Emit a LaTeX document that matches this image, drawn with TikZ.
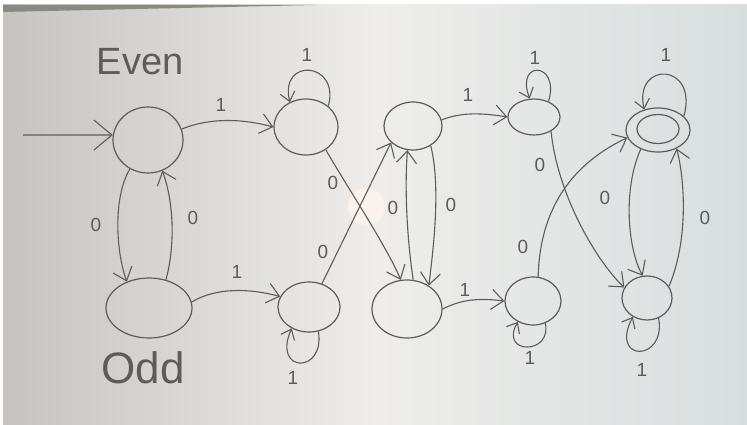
\documentclass[tikz,border=0pt]{standalone}
\usepackage{fontspec}
\setmainfont{Liberation Sans}
\usetikzlibrary{shapes.geometric,arrows.meta,fadings}
\definecolor{pen}{RGB}{92,92,92}
\definecolor{boardL}{RGB}{198,196,192}
\definecolor{boardM}{RGB}{238,237,235}
\definecolor{boardR}{RGB}{216,222,222}
\definecolor{glare}{RGB}{255,244,236}
\definecolor{frame}{RGB}{140,137,130}
\begin{document}
\begin{tikzpicture}[x=1pt,y=-1pt,
  state/.style={ellipse,draw=pen,line width=1.2pt,inner sep=0pt},
  edge/.style={draw=pen,line width=1.1pt,-{Straight Barb[length=12pt,width=20pt,line width=1.1pt]}},
  loopedge/.style={draw=pen,line width=1.1pt,-{Straight Barb[length=9pt,width=15pt,line width=1.1pt]}},
  startedge/.style={draw=pen,line width=1.1pt,-{Straight Barb[length=18pt,width=30pt,line width=1.1pt]}},
  lbl/.style={text=pen,font=\fontsize{19}{19}\selectfont,inner sep=0pt},
  big/.style={text=pen,inner sep=0pt}]
\useasboundingbox (0,0) rectangle (747,425);
\fill[white] (0,0) rectangle (747,425);
\shade[left color=boardL,right color=boardR,middle color=boardM] (3,5) rectangle (747,425);
\fill[frame] (3,5) -- (315,5) -- (3,12) -- cycle;
\fill[glare,opacity=0.8,path fading=circle with fuzzy edge 15 percent] (366,206) circle (20);

% states
\node[state,minimum width=70pt,minimum height=66pt] (A) at (148,140) {};
\node[state,minimum width=86pt,minimum height=60pt] (B) at (149,308) {};
\node[state,minimum width=64pt,minimum height=56pt] (C) at (306,127) {};
\node[state,minimum width=62pt,minimum height=50pt] (D) at (309,307) {};
\node[state,minimum width=58pt,minimum height=48pt] (E) at (413,126) {};
\node[state,minimum width=70pt,minimum height=58pt] (F) at (407,309) {};
\node[state,minimum width=52pt,minimum height=36pt] (G) at (534,117) {};
\node[state,minimum width=56pt,minimum height=48pt] (H) at (533,301) {};
\node[state,minimum width=64pt,minimum height=44pt] (I) at (658,130) {};
\node[state,minimum width=42pt,minimum height=29pt] (Iin) at (658,129) {};
\node[state,minimum width=50pt,minimum height=44pt] (J) at (647,298) {};

% titles
\node[big,font=\fontsize{38}{38}\selectfont] (even) at (140,62) {Even};
\node[big,font=\fontsize{44}{44}\selectfont] (odd) at (143,368) {Odd};

% start
\coordinate (s) at (23,135);
\draw[startedge] (s) -- (A.172);

% edges
\draw[edge] (A.18) .. controls +(30,-12) and +(-30,-8) .. (C.180);
\draw[edge] (B.8) .. controls +(25,-15) and +(-30,-8) .. (D.160);
\draw[edge] (A.238) .. controls +(-17,28) and +(-11,-30) .. (B.130);
\draw[edge] (B.59) .. controls +(9,-33) and +(12,33) .. (A.295);
\draw[edge] (C.311) .. controls +(20,35) and +(-15,-35) .. (F.102);
\draw[edge] (D.61) -- (E.217);
\draw[edge] (F.78) .. controls +(-6,-40) and +(-3,40) .. (E.257);
\draw[edge] (E.312) .. controls +(10,40) and +(5,-40) .. (F.47);
\draw[edge] (E.12) .. controls +(20,-8) and +(-25,-4) .. (G.180);
\draw[edge] (F.0) .. controls +(20,-10) and +(-25,-3) .. (H.180);
\draw[edge] (G.320) .. controls +(7,67) and +(-25,-23) .. (J.155);
\draw[edge] (H.78) .. controls +(2,-78) and +(-46,22) .. (I.194);
\draw[edge] (I.228) .. controls +(-18,40) and +(-15,-27) .. (J.101);
\draw[edge] (J.28) .. controls +(20,-47) and +(8,30) .. (I.315);

% self loops
\draw[loopedge] (C.43) .. controls +(12,-45) and +(-11,-45) .. (C.123);
\draw[loopedge] (D.291) .. controls +(7,43) and +(-20,45) .. (D.231);
\draw[loopedge] (G.47) .. controls +(12,-40) and +(-15,-39) .. (G.103);
\draw[loopedge] (H.299) .. controls +(7,32) and +(-19,33) .. (H.234);
\draw[loopedge] (I.28) .. controls +(15,-54) and +(-11,-49) .. (I.124);
\draw[loopedge] (J.300) .. controls +(8,44) and +(-24,46) .. (J.233);

% labels
\node[lbl] (l1) at (221,105) {1};
\node[lbl] (l2) at (237,272) {1};
\node[lbl] (l3) at (96,225) {0};
\node[lbl] (l4) at (193,218) {0};
\node[lbl] (l5) at (307,55) {1};
\node[lbl] (l6) at (293,378) {1};
\node[lbl] (l7) at (333,183) {0};
\node[lbl] (l8) at (323,252) {0};
\node[lbl] (l9) at (393,208) {0};
\node[lbl] (l10) at (451,205) {0};
\node[lbl] (l11) at (468,95) {1};
\node[lbl] (l12) at (465,290) {1};
\node[lbl] (l13) at (535,58) {1};
\node[lbl] (l14) at (530,358) {1};
\node[lbl] (l15) at (540,165) {0};
\node[lbl] (l16) at (523,247) {0};
\node[lbl] (l17) at (666,55) {1};
\node[lbl] (l18) at (642,370) {1};
\node[lbl] (l19) at (605,198) {0};
\node[lbl] (l20) at (705,218) {0};
\end{tikzpicture}
\end{document}
